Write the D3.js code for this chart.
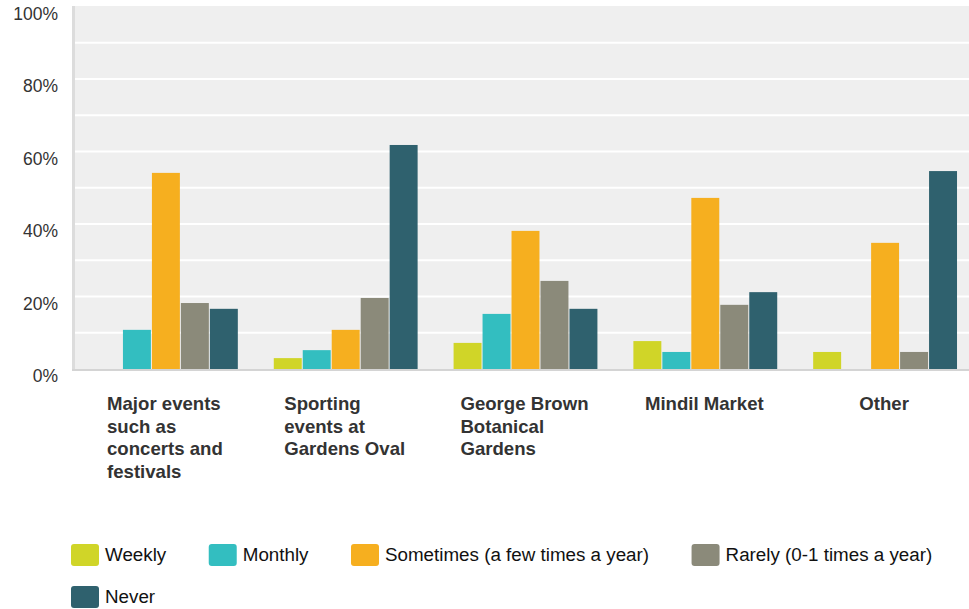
<!DOCTYPE html>
<html>
<head>
<meta charset="utf-8">
<script src="https://cdn.jsdelivr.net/npm/d3@7/dist/d3.min.js"></script>
<style>
  html, body { margin: 0; padding: 0; background: #fff; }
  svg { display: block; font-family: "Liberation Sans", Arial, sans-serif; }
</style>
</head>
<body>
<svg id="chart" width="969" height="609"></svg>
<script>
const categories = [
  ["Major events", "such as", "concerts and", "festivals"],
  ["Sporting", "events at", "Gardens Oval"],
  ["George Brown", "Botanical", "Gardens"],
  ["Mindil Market"],
  ["Other"]
];
const seriesNames = ["Weekly", "Monthly", "Sometimes (a few times a year)", "Rarely (0-1 times a year)", "Never"];
const seriesColors = ["#d0d528", "#33bec0", "#f6af1f", "#8b8a7a", "#2f616e"];
const weekly    = [0,    3.0,  7.2,  7.7,  4.7];
const monthly   = [10.8, 5.2,  15.2, 4.7,  0];
const sometimes = [54.1, 10.8, 38.1, 47.2, 34.8];
const rarely    = [18.2, 19.6, 24.3, 17.7, 4.7];
const never     = [16.6, 61.8, 16.6, 21.2, 54.6];
const yTicks = [0, 20, 40, 60, 80, 100];
const yGrid = [10, 20, 30, 40, 50, 60, 70, 80, 90];

const seriesValues = [weekly, monthly, sometimes, rarely, never];
const catKeys = categories.map((c, i) => "c" + i);

const svg = d3.select("#chart");
const plotLeft = 75, plotRight = 975, plotTop = 6, plotBottom = 369;

const x0 = d3.scaleBand().domain(catKeys).range([plotLeft + 1, plotRight]).paddingInner(0.2).paddingOuter(0.1);
const x1 = d3.scaleBand().domain(seriesNames).range([0, x0.bandwidth()]).paddingInner(0.035);
const y = d3.scaleLinear().domain([0, 100]).range([plotBottom, plotTop + 0.5]);

// plot background
svg.append("rect").attr("x", plotLeft - 2).attr("y", plotTop).attr("width", 969 - plotLeft + 2).attr("height", plotBottom - plotTop)
  .attr("fill", "#efefef");

// gridlines
svg.append("g").selectAll("line").data(yGrid).join("line")
  .attr("x1", plotLeft).attr("x2", 969)
  .attr("y1", d => y(d)).attr("y2", d => y(d))
  .attr("stroke", "#ffffff").attr("stroke-width", 2);

// axis lines
svg.append("line").attr("x1", plotLeft - 1.5).attr("x2", plotLeft - 1.5).attr("y1", plotTop).attr("y2", plotBottom + 2)
  .attr("stroke", "#dcdcdc").attr("stroke-width", 3);
svg.append("line").attr("x1", plotLeft - 3).attr("x2", 969).attr("y1", plotBottom + 1).attr("y2", plotBottom + 1)
  .attr("stroke", "#d4d4d4").attr("stroke-width", 2);

// bars
const groups = svg.append("g").selectAll("g").data(catKeys).join("g")
  .attr("transform", d => `translate(${x0(d)},0)`);
groups.selectAll("rect").data((d, ci) => seriesNames.map((s, si) => ({ s, si, v: seriesValues[si][ci] })))
  .join("rect")
  .attr("x", d => x1(d.s))
  .attr("width", x1.bandwidth())
  .attr("y", d => y(d.v))
  .attr("height", d => y(0) - y(d.v))
  .attr("fill", d => seriesColors[d.si]);

// y tick labels
svg.append("g").selectAll("text").data(yTicks).join("text")
  .attr("x", 58).attr("y", d => y(d) + 13.3)
  .attr("text-anchor", "end")
  .attr("font-size", "17.5px").attr("fill", "#333")
  .text(d => d + "%");

// category labels (centered block, left-aligned lines)
catKeys.forEach((k, i) => {
  const cx = x0(k) + x0.bandwidth() / 2 - 1;
  const g = svg.append("g");
  const texts = g.selectAll("text").data(categories[i]).join("text")
    .attr("y", (d, j) => 410 + j * 22.6)
    .attr("font-size", "18.6px").attr("font-weight", "bold").attr("fill", "#333")
    .text(d => d);
  let maxW = 0;
  texts.each(function () { maxW = Math.max(maxW, this.getComputedTextLength()); });
  texts.attr("x", cx - maxW / 2);
});

// legend
const legend = svg.append("g");
let lx = 71, ly = 544;
seriesNames.forEach((s, i) => {
  const item = legend.append("g");
  item.append("rect").attr("width", 28).attr("height", 22).attr("rx", 3)
    .attr("fill", seriesColors[i]);
  const t = item.append("text").attr("x", 34).attr("y", 17)
    .attr("font-size", "18.8px").attr("fill", "#111").text(s);
  const w = 34 + t.node().getComputedTextLength();
  if (lx + w > 960) { lx = 71; ly += 42; }
  item.attr("transform", `translate(${lx},${ly})`);
  lx += w + 42.5;
});
</script>
</body>
</html>
